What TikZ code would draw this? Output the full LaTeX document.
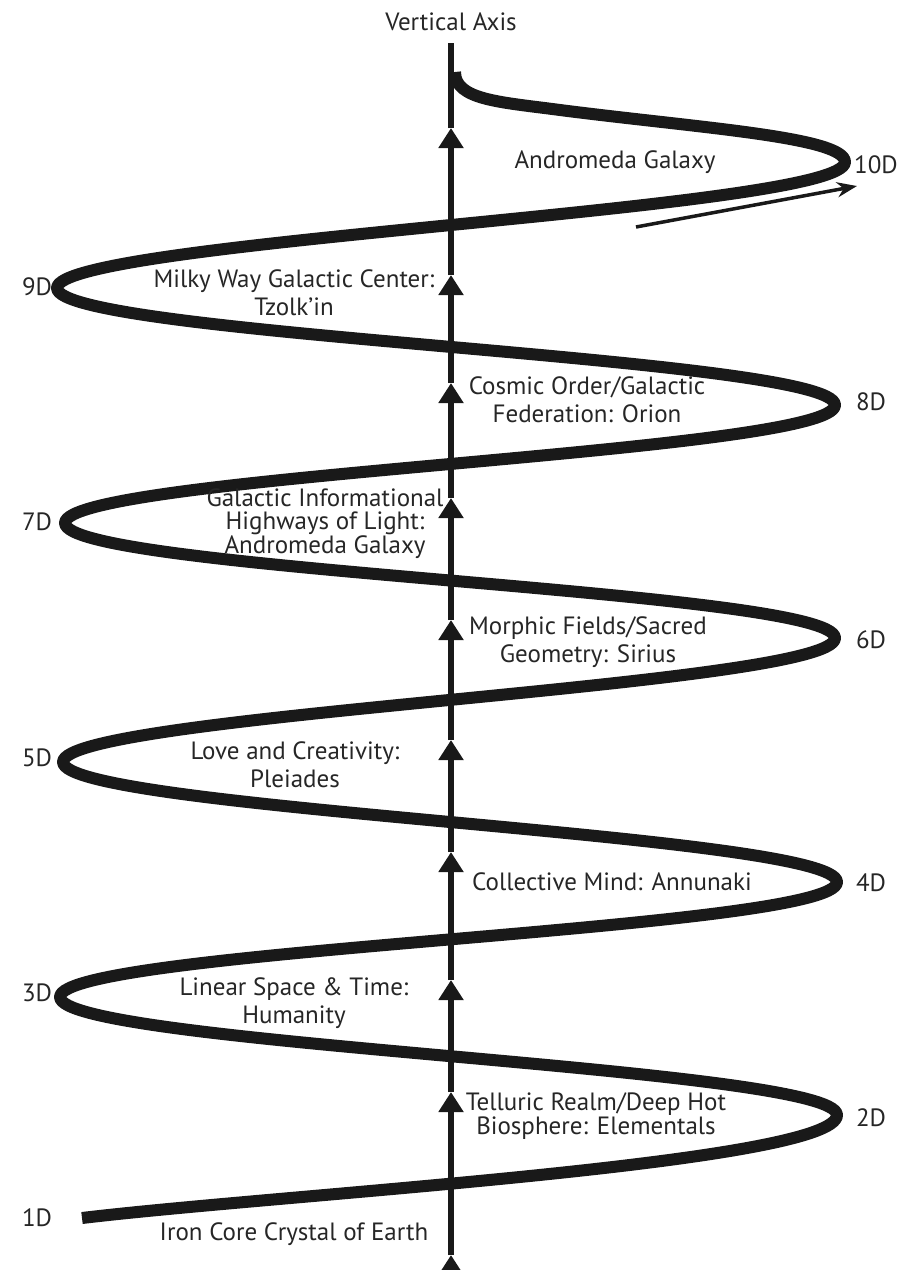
\documentclass[tikz,border=0pt]{standalone}
\usepackage{fontspec}
\setmainfont{PT Sans}
\usetikzlibrary{arrows.meta}

\begin{document}
\begin{tikzpicture}[
    x=1pt, y=-1pt,
    label/.style={font=\fontsize{25}{28}\selectfont, align=center, text=black!85, inner sep=0pt},
    dim/.style={font=\fontsize{25}{28}\selectfont, text=black!85, inner sep=0pt},
    spiral/.style={line width=12pt, black!90, line join=round},
    axis/.style={line width=6.5pt, black!90},
    up/.style={axis, -{Triangle[length=20pt, width=24pt]}},
    arrow/.style={line width=3.5pt, black!90, -{Stealth[length=20pt, width=15pt]}}
]
\useasboundingbox (0, 0) rectangle (902, 1270);

% Turning points of the spiral
\coordinate (t1) at (82, 1218);
\coordinate (t2) at (837, 1115);
\coordinate (t3) at (60, 997);
\coordinate (t4) at (837, 882);
\coordinate (t5) at (63, 762);
\coordinate (t6) at (835, 638);
\coordinate (t7) at (65, 523);
\coordinate (t8) at (835, 405);
\coordinate (t9) at (57, 288);
\coordinate (t10) at (845, 162);
\coordinate (tmid) at (560, 110);
\coordinate (tend) at (455, 72);

% Spiral
\draw[spiral] (t1) .. controls +(200,-24) and +(0,48) .. (t2)
    .. controls +(0,-48) and +(0,48) .. (t3)
    .. controls +(0,-48) and +(0,48) .. (t4)
    .. controls +(0,-48) and +(0,48) .. (t5)
    .. controls +(0,-48) and +(0,48) .. (t6)
    .. controls +(0,-48) and +(0,48) .. (t7)
    .. controls +(0,-48) and +(0,48) .. (t8)
    .. controls +(0,-48) and +(0,48) .. (t9)
    .. controls +(0,-48) and +(0,48) .. (t10)
    .. controls +(0,-25) and (700,128) .. (tmid)
    .. controls (500,102) and +(0,28) .. (tend);

% Vertical axis
\coordinate (a0) at (451, 1290);
\coordinate (a1) at (451, 1255);
\coordinate (a2) at (451, 1092);
\coordinate (a3) at (451, 980);
\coordinate (a4) at (451, 852);
\coordinate (a5) at (451, 740);
\coordinate (a6) at (451, 620);
\coordinate (a7) at (451, 498);
\coordinate (a8) at (451, 383);
\coordinate (a9) at (451, 275);
\coordinate (a10) at (451, 128);
\coordinate (atop) at (451, 43);
\draw[up] (a0) -- (a1);
\draw[up] (a1) -- (a2);
\draw[up] (a2) -- (a3);
\draw[up] (a3) -- (a4);
\draw[up] (a4) -- (a5);
\draw[up] (a5) -- (a6);
\draw[up] (a6) -- (a7);
\draw[up] (a7) -- (a8);
\draw[up] (a8) -- (a9);
\draw[up] (a9) -- (a10);
\draw[axis] (a10) -- (atop);
\node[dim] (vaxis) at (451, 22) {Vertical Axis};

% Direction arrow
\coordinate (s0) at (636, 227);
\coordinate (s1) at (857, 186);
\draw[arrow] (s0) -- (s1);

% Dimensions
\node[dim] (d1) at (37, 1218) {1D};
\node[dim] (d2) at (871, 1118) {2D};
\node[dim] (d3) at (37, 993) {3D};
\node[dim] (d4) at (871, 883) {4D};
\node[dim] (d5) at (37, 758) {5D};
\node[dim] (d6) at (871, 640) {6D};
\node[dim] (d7) at (37, 522) {7D};
\node[dim] (d8) at (871, 402) {8D};
\node[dim] (d9) at (37, 287) {9D};
\node[dim] (d10) at (876, 165) {10D};

% Realms
\node[label] (iron) at (294, 1234) {Iron Core Crystal of Earth};
\node[label, font=\fontsize{25}{24}\selectfont] (telluric) at (596, 1116) {Telluric Realm/Deep Hot\\Biosphere: Elementals};
\node[label] (linear) at (294, 1003) {Linear Space \& Time:\\Humanity};
\node[label] (mind) at (612, 882) {Collective Mind: Annunaki};
\node[label] (love) at (295, 765) {Love and Creativity:\\Pleiades};
\node[label] (morphic) at (588, 642) {Morphic Fields/Sacred\\Geometry: Sirius};
\node[label, font=\fontsize{25}{23}\selectfont] (highways) at (325, 524) {Galactic Informational\\Highways of Light:\\Andromeda Galaxy};
\node[label] (cosmic) at (587, 400) {Cosmic Order/Galactic\\Federation: Orion};
\node[label] (milky) at (294, 293) {Milky Way Galactic Center:\\Tzolk’in};
\node[label] (andromeda) at (615, 162) {Andromeda Galaxy};

\end{tikzpicture}
\end{document}
